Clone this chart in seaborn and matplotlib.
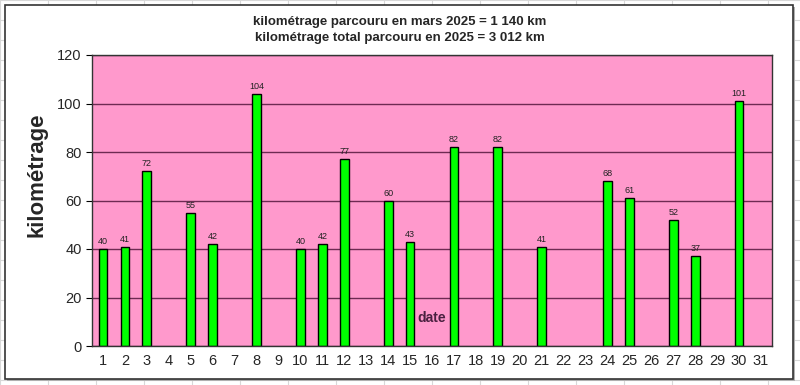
import numpy as np
import pandas as pd
import matplotlib
matplotlib.use("Agg")
import matplotlib.pyplot as plt
import seaborn as sns
from matplotlib.lines import Line2D
from matplotlib.patches import Rectangle

# données de mars 2025
jours = [1, 2, 3, 5, 6, 8, 10, 11, 12, 14, 15, 17, 19, 21, 24, 25, 27, 28, 30]
km = [40, 41, 72, 55, 42, 104, 40, 42, 77, 60, 43, 82, 82, 41, 68, 61, 52, 37, 101]
tous_jours = [str(d) for d in range(1, 32)]
titre = ["kilométrage parcouru en mars 2025 = 1 140 km",
         "kilométrage total parcouru en 2025 = 3 012 km"]

df = pd.DataFrame({"date": [str(j) for j in jours], "km": km})

sns.set_style("white")
plt.rcParams['font.family'] = ['Liberation Sans', 'DejaVu Sans']

fig = plt.figure(figsize=(8, 3.85), dpi=100)

# fond type tableur
for x in range(0, 800, 48):
    fig.add_artist(Line2D([x / 800, x / 800], [0, 1], color="#d8d8d8", lw=0.8, zorder=-3))
for y in range(0, 385, 20):
    fig.add_artist(Line2D([0, 1], [1 - y / 385, 1 - y / 385], color="#d8d8d8", lw=0.8, zorder=-3))
fig.add_artist(Rectangle((7 / 800, 1 - 381 / 385), 788 / 800, 374 / 385, zorder=-2,
                         transform=fig.transFigure, facecolor="#b0b0b0", edgecolor="none"))
fig.add_artist(Rectangle((5 / 800, 1 - 379 / 385), 788 / 800, 374 / 385, zorder=-1,
                         transform=fig.transFigure, facecolor="white", edgecolor="#333333", lw=1.2))

ax = fig.add_axes([92 / 800, 1 - 346 / 385, 680 / 800, 291 / 385])
ax.set_facecolor("#ff99cc")

sns.barplot(data=df, x="date", y="km", order=tous_jours, color="#00ff00",
            saturation=1, width=0.4, edgecolor="black", linewidth=1, ax=ax)

for j, v in zip(jours, km):
    ax.text(j - 1, v + 1.2, str(v), ha="center", va="bottom", fontsize=6.5, color="#222222")

ax.set_ylim(0, 120)
ax.set_xlim(-0.5, 30.5)
ax.set_yticks(range(0, 121, 20))
ax.yaxis.grid(True, color="#6e2a52", lw=1)
ax.set_axisbelow(True)
ax.set_xticks(range(31))
ax.set_xticklabels(tous_jours, fontsize=10.5)
ax.set_xticks(np.arange(-0.5, 31, 1), minor=True)
ax.tick_params(axis="x", which="major", length=0, pad=6)
ax.tick_params(axis="x", which="minor", length=4, color="black", direction="out")
ax.tick_params(axis="y", length=4, color="black", direction="out", labelsize=10.5, left=True)
for s in ax.spines.values():
    s.set_color("#333333")
    s.set_linewidth(1)
ax.set_xlabel("")
ax.set_ylabel("kilométrage", fontsize=16, fontweight="bold")
ax.yaxis.set_label_coords(-0.066, 0.588)
ax.text(15, 11.5, "date", ha="center", va="center", fontsize=10,
        fontweight="bold", color="#4a2040")

fig.text(0.5, 1 - 22 / 385, titre[0], ha="center", va="center", fontsize=9.5, fontweight="bold")
fig.text(0.5, 1 - 38 / 385, titre[1], ha="center", va="center", fontsize=9.5, fontweight="bold")

fig.savefig("out.png", dpi=100)
